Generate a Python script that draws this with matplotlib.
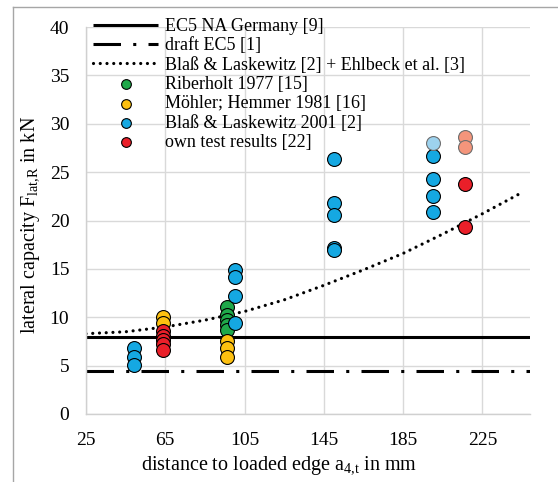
import numpy as np
import matplotlib
matplotlib.use('Agg')
import matplotlib.pyplot as plt
from matplotlib.lines import Line2D

plt.rcParams['font.family'] = ['Liberation Serif', 'DejaVu Serif']
plt.rcParams['mathtext.fontset'] = 'custom'
plt.rcParams['mathtext.rm'] = 'Liberation Serif'
plt.rcParams['mathtext.it'] = 'Liberation Serif:italic'

# design curves
ec5_na_x = [25, 249]
ec5_na_y = [8.0, 8.0]
draft_x = [25, 249]
draft_y = [4.4, 4.4]
blass_ehl_x = [25, 45, 65, 85, 105, 125, 145, 165, 185, 205, 225, 245]
blass_ehl_y = [8.3, 8.5, 9.0, 9.7, 10.6, 11.8, 13.3, 14.9, 16.6, 18.6, 20.7, 22.9]

# test data
riberholt_x = [96, 96, 96, 96, 96]
riberholt_y = [11.1, 10.2, 9.7, 9.2, 8.7]
moehler_x = [64, 64, 96, 96, 96]
moehler_y = [10.0, 9.4, 7.5, 6.8, 5.9]
blass2001_x = [49, 49, 49, 100, 100, 100, 100, 150, 150, 150, 150, 150, 200, 200, 200, 200]
blass2001_y = [6.8, 5.9, 5.1, 14.9, 14.2, 12.2, 9.4, 26.4, 21.8, 20.6, 17.2, 16.9, 26.7, 24.3, 22.5, 20.9]
blass2001_light_x = [200]
blass2001_light_y = [28.0]
own_x = [64, 64, 64, 64, 64, 216, 216]
own_y = [8.6, 8.1, 7.6, 7.2, 6.6, 23.8, 19.3]
own_light_x = [216, 216]
own_light_y = [28.6, 27.6]

green = '#1FA84A'
yellow = '#FDC010'
blue = '#15A8E2'
red = '#EA1F29'

fig = plt.figure(figsize=(5.58, 4.82), dpi=100)
ax = fig.add_axes([86 / 558, 1 - 414 / 482, 444 / 558, 387 / 482])

l1, = ax.plot(ec5_na_x, ec5_na_y, color='black', lw=2.2, solid_capstyle='butt', zorder=2)
l2, = ax.plot(draft_x, draft_y, color='black', lw=2.2, linestyle=(0, (9, 4, 1, 4)), zorder=2)
l3, = ax.plot(blass_ehl_x, blass_ehl_y, color='black', lw=2.3,
              linestyle=(0, (0.01, 2.1)), dash_capstyle='round', zorder=2)

ms = 100
s1 = ax.scatter(riberholt_x, riberholt_y, s=ms, color=green, edgecolor='black', lw=0.8, zorder=3)
s2 = ax.scatter(moehler_x, moehler_y, s=ms, color=yellow, edgecolor='black', lw=0.8, zorder=3)
s3 = ax.scatter(blass2001_x, blass2001_y, s=ms, color=blue, edgecolor='black', lw=0.8, zorder=3)
ax.scatter(blass2001_light_x, blass2001_light_y, s=ms, color='#9DD2EE', edgecolor='#6E6E6E', lw=0.8, zorder=3)
s4 = ax.scatter(own_x, own_y, s=ms, color=red, edgecolor='black', lw=0.8, zorder=3)
ax.scatter(own_light_x, own_light_y, s=ms, color='#F4957B', edgecolor='#6E6E6E', lw=0.8, zorder=3)

ax.set_xlim(25, 249)
ax.set_ylim(0, 40)
ax.set_xticks([25, 65, 105, 145, 185, 225])
ax.set_yticks(range(0, 41, 5))
ax.grid(True, color='#D9D9D9', lw=1)
ax.set_axisbelow(True)
for side in ['top', 'right']:
    ax.spines[side].set_visible(False)
for side in ['left', 'bottom']:
    ax.spines[side].set_color('#D0D0D0')
    ax.spines[side].set_linewidth(1)
ax.tick_params(length=0, labelsize=14)
ax.tick_params(axis='y', pad=12)
ax.tick_params(axis='x', pad=13)

ax.set_xlabel(r'distance to loaded edge a$_{\mathrm{4{,}t}}$ in mm', fontsize=14.5)
ax.set_ylabel(r'lateral capacity F$_{\mathrm{lat{,}R}}$ in kN', fontsize=14.5)
ax.xaxis.label.set_verticalalignment('center')
ax.yaxis.label.set_verticalalignment('center')
ax.xaxis.set_label_coords((279 - 86) / 444, (414 - 466) / 387)
ax.yaxis.set_label_coords((31 - 86) / 444, (414 - 225) / 387)

handles = [l1, l2, l3, s1, s2, s3, s4]
labels = ['EC5 NA Germany [9]', 'draft EC5 [1]', 'Blaß & Laskewitz [2] + Ehlbeck et al. [3]',
          'Riberholt 1977 [15]', 'Möhler; Hemmer 1981 [16]', 'Blaß & Laskewitz 2001 [2]',
          'own test results [22]']
fig.legend(handles, labels, loc='upper left', bbox_to_anchor=(93 / 558, 1 - 18 / 482),
           frameon=False, fontsize=13, handlelength=3.6, handletextpad=0.4,
           labelspacing=0.13, borderpad=0, borderaxespad=0, markerscale=0.7)

# outer chart frame
fig.add_artist(Line2D([12.5 / 558, 12.5 / 558], [0, 1 - 7 / 482], color='#A6A6A6', lw=1))
fig.add_artist(Line2D([12.5 / 558, 1], [1 - 7 / 482, 1 - 7 / 482], color='#A6A6A6', lw=1))

fig.savefig('out.png', dpi=100)
